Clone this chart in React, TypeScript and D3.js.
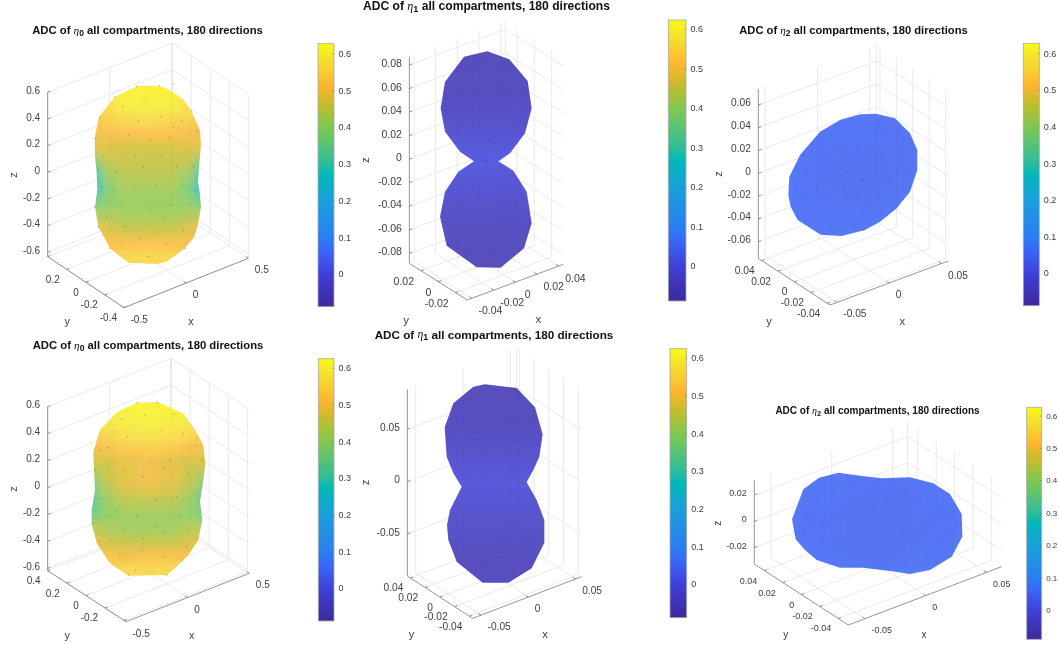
import React from "react";
import * as d3 from "d3";

// ---------- colour map ----------
const cmapStops = [0, 0.123, 0.21, 0.267, 0.405, 0.5, 0.544, 0.683, 0.775, 0.84, 0.93, 1];
const cmapColors = ["#3b2a9c", "#3f3fd8", "#3a66f8", "#2a80f0", "#1aa0dc", "#00b8b8", "#2cbd9c", "#80c84f", "#c8bc2a", "#fdb52f", "#f5dc30", "#f8fa14"];
const cbarMin = -0.088;
const cbarMax = 0.628;
const cbarTicks = [0, 0.1, 0.2, 0.3, 0.4, 0.5, 0.6];

// ---------- silhouettes and sample points (3x read-off units, per panel crop) ----------
const outlineA = [[410,258],[475,257],[505,268],[550,298],[575,335],[600,390],[603,435],[598,490],[594,545],[600,585],[603,620],[595,670],[583,710],[555,745],[500,785],[470,792],[385,788],[330,745],[295,680],[285,620],[292,570],[290,520],[285,470],[284,415],[297,350],[345,290]];
const outlineB = [[412,154],[478,178],[533,243],[545,325],[525,400],[480,460],[445,484],[490,512],[530,575],[545,670],[522,745],[452,803],[380,802],[290,737],[270,650],[285,575],[325,515],[372,484],[330,455],[285,395],[272,325],[285,245],[342,170]];
const outlineC = [[480,343],[527,341],[585,355],[630,400],[652,450],[652,510],[630,575],[590,625],[540,665],[495,690],[425,708],[362,704],[293,660],[272,620],[265,585],[268,530],[300,465],[360,395],[420,360]];
const outlineD = [[410,218],[472,216],[510,232],[552,252],[585,300],[610,345],[616,400],[610,450],[600,515],[607,570],[595,630],[565,675],[525,715],[500,735],[385,737],[330,700],[290,640],[275,580],[275,540],[285,480],[282,420],[280,365],[300,300],[350,247]];
const outlineE = [[370,200],[405,193],[500,204],[555,262],[578,343],[568,410],[550,450],[530,487],[560,540],[583,600],[583,668],[545,745],[475,788],[398,788],[320,725],[295,660],[291,615],[300,570],[335,500],[310,460],[290,410],[284,322],[310,250]];
const outlineF = [[415,248],[480,257],[545,265],[630,262],[700,280],[750,312],[785,372],[787,440],[755,500],[690,540],[630,552],[570,543],[490,533],[420,533],[350,510],[315,480],[287,448],[276,388],[310,298],[357,263]];

const dotsA = [[368,318],[432,306],[410,260],[478,257],[520,252],[300,352],[345,290],[415,362],[483,350],[545,363],[520,382],[575,332],[450,420],[510,412],[590,392],[285,415],[330,408],[385,405],[310,470],[405,465],[485,470],[560,455],[295,505],[350,515],[430,500],[530,500],[580,500],[305,560],[340,570],[400,555],[470,555],[545,555],[585,570],[365,608],[450,630],[510,615],[570,610],[285,620],[320,650],[375,680],[435,672],[490,655],[550,690],[295,680],[420,715],[500,732],[360,730],[330,745],[445,770],[555,745]];
const dotsB = [[360,205],[380,185],[332,252],[410,262],[410,272],[510,275],[515,280],[285,330],[347,313],[363,330],[470,342],[453,222],[345,380],[320,395],[525,370],[350,430],[370,448],[435,430],[420,420],[395,470],[405,482],[400,484],[412,482],[418,480],[395,512],[430,520],[445,505],[490,520],[368,515],[325,545],[350,540],[385,580],[470,590],[405,598],[520,600],[290,655],[348,648],[375,628],[465,672],[390,708],[320,730],[525,690],[437,762],[420,745]];
const dotsC = [[505,378],[450,380],[365,422],[420,440],[310,465],[470,450],[545,458],[605,455],[595,405],[560,405],[535,362],[390,515],[320,515],[430,505],[440,515],[480,535],[490,540],[500,520],[525,535],[565,540],[610,560],[590,505],[350,558],[315,598],[395,590],[440,590],[470,585],[500,600],[365,630],[415,635],[450,630],[490,632],[340,665],[395,678],[430,678],[465,675],[490,690],[535,590],[280,580],[555,495]];
const dotsD = [[365,267],[435,255],[410,218],[472,218],[520,252],[300,360],[382,320],[345,305],[485,300],[550,310],[325,352],[590,345],[450,395],[510,390],[605,390],[285,420],[375,420],[430,440],[490,415],[565,430],[305,505],[355,480],[470,510],[530,500],[585,490],[320,560],[350,545],[410,560],[465,590],[540,560],[600,545],[280,580],[370,600],[430,625],[495,605],[565,600],[330,630],[360,680],[425,660],[490,680],[560,650],[545,690],[300,635],[385,735],[405,720],[500,735]];
const dotsE = [[392,245],[430,240],[505,233],[375,280],[438,300],[520,280],[318,342],[377,338],[408,325],[490,368],[535,345],[345,405],[395,392],[415,400],[505,398],[525,400],[385,450],[430,435],[455,435],[485,435],[500,455],[355,480],[410,470],[470,485],[505,490],[525,490],[345,520],[385,515],[425,520],[480,510],[400,535],[510,545],[350,590],[410,565],[380,590],[545,600],[350,615],[430,620],[480,640],[392,660],[530,658],[360,703],[447,697],[497,720],[460,783],[410,725]];
const dotsF = [[320,368],[340,375],[450,285],[530,290],[620,295],[630,325],[560,335],[720,365],[700,380],[580,350],[500,380],[430,365],[370,400],[450,425],[540,420],[610,420],[670,400],[740,430],[310,430],[370,450],[420,480],[480,470],[540,460],[600,470],[660,450],[720,470],[500,510],[560,510],[620,510],[680,500],[440,510],[520,350],[580,385],[475,350],[400,300],[350,330]];

// ---------- ADC values over the visible surface: rows run top to bottom, columns left to right ----------
const adcA = [
  [.60,.60,.61,.61,.61,.60,.60],[.57,.58,.60,.60,.60,.58,.57],[.53,.55,.56,.57,.56,.55,.54],
  [.50,.51,.52,.52,.52,.51,.50],[.49,.48,.47,.47,.47,.48,.49],[.39,.46,.46,.46,.46,.46,.39],
  [.31,.42,.445,.445,.445,.42,.31],[.28,.39,.425,.425,.425,.39,.28],[.36,.40,.41,.41,.41,.40,.36],
  [.44,.43,.425,.425,.425,.43,.44],[.50,.48,.46,.46,.46,.48,.50],[.505,.51,.52,.52,.52,.51,.505],
  [.53,.55,.56,.56,.56,.55,.53]];
const adcD = [
  [.59,.60,.61,.61,.61,.60,.59],[.55,.59,.60,.61,.60,.59,.55],[.52,.56,.58,.58,.58,.56,.53],
  [.50,.51,.53,.54,.53,.51,.50],[.47,.47,.49,.50,.49,.47,.47],[.41,.46,.49,.50,.49,.46,.42],
  [.36,.44,.48,.49,.48,.44,.36],[.33,.41,.445,.445,.445,.41,.33],[.37,.40,.415,.415,.415,.40,.37],
  [.45,.43,.42,.42,.42,.44,.45],[.49,.47,.46,.46,.46,.47,.49],[.505,.51,.50,.51,.51,.51,.505],
  [.53,.55,.56,.56,.56,.55,.53]];
const adcB = [[-.055],[-.05],[-.04],[-.02],[.01],[-.015],[-.035],[-.045],[-.055]];
const adcE = [[-.055],[-.05],[-.04],[-.02],[.0],[-.02],[-.035],[-.045],[-.055]];
const adcC = [[.055,.056,.055],[.055,.048,.052],[.056,.056,.056]];
const adcF = [[.056,.055,.056],[.055,.044,.055],[.056,.052,.056]];
const columnEdgesWide = [0,.07,.22,.4,.6,.78,.93,1];
const columnEdgesSingle = [0,1];
const columnEdgesThree = [0,.33,.67,1];

// ---------- axis ticks ----------
const zTicksA = [-0.6,-0.4,-0.2,0,0.2,0.4,0.6];
const xTicksA = [-0.5,0,0.5];
const yTicksA = [-0.4,-0.2,0,0.2,0.4];
const yLabelsA = [-0.4,-0.2,0,0.2];
const yLabelsD = [-0.2,0,0.2,0.4];
const zTicksB = [-0.08,-0.06,-0.04,-0.02,0,0.02,0.04,0.06,0.08];
const xTicksB = [-0.04,-0.02,0,0.02,0.04];
const yTicksB = [-0.02,0,0.02];
const zTicksC = [-0.06,-0.04,-0.02,0,0.02,0.04,0.06];
const xTicksC = [-0.05,0,0.05];
const yTicksC = [-0.04,-0.02,0,0.02,0.04];
const zTicksE = [-0.05,0,0.05];
const zTicksF = [-0.02,0,0.02];

// ---------- panel table built from the lists above ----------
const panels = [
  { id:"a", sub:"0", ox:0, oy:0, titleX:147.5, titleY:30, titleFs:11.3, tickFs:10, cbFs:9, alpha:0.83, zeroNudge:0,
    L:[143,770], F:[372,923], R:[745,775], topY:277,
    xDom:[-0.5,0.5], yDom:[-0.4,0.4], zDom:[-0.6325,0.6],
    xT:xTicksA, yT:yTicksA, yL:yLabelsA, zT:zTicksA, xLab:[573,962], yLab:[202,962], zLab:[38,525],
    outline:outlineA, dots:dotsA, adc:adcA, edges:columnEdgesWide, gridBox:[284,257,603,792], blur:4.5,
    cb:[318,334,43.7,306.7], cb0:274.3, cb6:54 },
  { id:"b", sub:"1", ox:350, oy:0, titleX:486.5, titleY:6, titleFs:12.1, tickFs:10.5, cbFs:9, alpha:0.86, zeroNudge:3,
    L:[178,790], F:[352,900], R:[640,793], topY:170,
    xDom:[-0.0443,0.0443], yDom:[-0.0335,0.0335], zDom:[-0.0885,0.0871],
    xT:xTicksB, yT:yTicksB, yL:yTicksB, zT:zTicksB, xLab:[565,958], yLab:[168,960], zLab:[45,480],
    outline:outlineB, dots:dotsB, adc:adcB, edges:columnEdgesSingle, gridBox:[270,154,545,803], blur:9,
    cb:[668.3,686,20,301], cb0:266, cb6:29.3 },
  { id:"c", sub:"2", ox:700, oy:0, titleX:853.5, titleY:30, titleFs:11.2, tickFs:10.2, cbFs:9, alpha:0.86, zeroNudge:0,
    L:[175,775], F:[390,915], R:[745,783], topY:267,
    xDom:[-0.0565,0.0565], yDom:[-0.0433,0.044], zDom:[-0.0746,0.074],
    xT:xTicksC, yT:yTicksC, yL:yTicksC, zT:zTicksC, xLab:[607,962], yLab:[207,962], zLab:[53,522],
    outline:outlineC, dots:dotsC, adc:adcC, edges:columnEdgesThree, gridBox:[265,341,652,708], blur:16,
    cb:[1023.3,1039.3,43.3,305.7], cb0:273.3, cb6:53.7 },
  { id:"d", sub:"0", ox:0, oy:330, titleX:148, titleY:345, titleFs:11.3, tickFs:10, cbFs:9, alpha:0.83, zeroNudge:0,
    L:[143,722], F:[378,875], R:[748,730], topY:230,
    xDom:[-0.5,0.5], yDom:[-0.42,0.4], zDom:[-0.617,0.6],
    xT:xTicksA, yT:yTicksA, yL:yLabelsD, zT:zTicksA, xLab:[575,915], yLab:[202,915], zLab:[38,477],
    outline:outlineD, dots:dotsD, adc:adcD, edges:columnEdgesWide, gridBox:[275,216,616,737], blur:4.5,
    cb:[318.3,334,358.7,621], cb0:588.3, cb6:368.3 },
  { id:"e", sub:"1", ox:350, oy:320, titleX:494, titleY:334, titleFs:11.7, tickFs:10.2, cbFs:9, alpha:0.86, zeroNudge:0,
    L:[172,768], F:[368,895], R:[695,770], topY:208,
    xDom:[-0.0588,0.0563], yDom:[-0.0445,0.0441], zDom:[-0.0901,0.0882],
    xT:xTicksC, yT:yTicksC, yL:yTicksC, zT:zTicksE, xLab:[585,943], yLab:[185,943], zLab:[45,487],
    outline:outlineE, dots:dotsE, adc:adcE, edges:columnEdgesSingle, gridBox:[284,193,583,788], blur:9,
    cb:[670,686.7,348.7,617.7], cb0:584.3, cb6:358.3 },
  { id:"f", sub:"2", ox:700, oy:390, titleX:877.5, titleY:410, titleFs:10, tickFs:9, cbFs:8, alpha:0.86, zeroNudge:0,
    L:[163,522], F:[445,705], R:[905,530], topY:270,
    xDom:[-0.0637,0.0624], yDom:[-0.0509,0.0509], zDom:[-0.0324,0.0314],
    xT:xTicksC, yT:yTicksC, yL:yTicksC, zT:zTicksF, xLab:[672,732], yLab:[257,732], zLab:[52,400],
    outline:outlineF, dots:dotsF, adc:adcF, edges:columnEdgesThree, gridBox:[276,248,787,552], blur:16,
    cb:[1026.7,1041.7,407.3,639.3], cb0:610.7, cb6:416 },
];

const FONT = "'Liberation Sans', Arial, sans-serif";
const TEXT = "#404040";
const WIDTH = 1059;
const HEIGHT = 645;

const cmap = d3.scaleLinear<string>().domain(cmapStops).range(cmapColors).interpolate(d3.interpolateRgb);
const cmapValue = d3.scaleLinear().domain([cbarMin, cbarMax]).range([0, 1]).clamp(true);
const colorOf = (v: number) => cmap(cmapValue(v));

function Panel({ p }: { p: (typeof panels)[number] }) {
  const vx = d3.scaleLinear().domain([0, 1050]).range([p.ox, p.ox + 350]);
  const vy = d3.scaleLinear().domain([0, 1050]).range([p.oy, p.oy + 350]);
  const Lp = [vx(p.L[0]), vy(p.L[1])];
  const Fp = [vx(p.F[0]), vy(p.F[1])];
  const Rp = [vx(p.R[0]), vy(p.R[1])];
  const h = vy(p.L[1]) - vy(p.topY);
  const xS = d3.scaleLinear().domain(p.xDom).range([0, 1]);
  const yS = d3.scaleLinear().domain(p.yDom).range([0, 1]);
  const zS = d3.scaleLinear().domain(p.zDom).range([0, h]);
  const P = (x: number, y: number, z: number): [number, number] => {
    const tx = xS(x), ty = yS(y);
    return [
      Fp[0] + tx * (Rp[0] - Fp[0]) + ty * (Lp[0] - Fp[0]),
      Fp[1] + tx * (Rp[1] - Fp[1]) + ty * (Lp[1] - Fp[1]) - zS(z),
    ];
  };
  const [x0, x1] = p.xDom, [y0, y1] = p.yDom, [z0, z1] = p.zDom;
  const line = d3.line();
  const grid: [number, number][][] = [];
  p.xT.forEach((x) => {
    grid.push([P(x, y0, z0), P(x, y1, z0), P(x, y1, z1)]);
  });
  p.yT.forEach((y) => {
    grid.push([P(x0, y, z0), P(x1, y, z0), P(x1, y, z1)]);
  });
  p.zT.forEach((z) => {
    grid.push([P(x0, y1, z), P(x1, y1, z), P(x1, y0, z)]);
  });
  // back corner edge
  grid.push([P(x1, y1, z0), P(x1, y1, z1)]);

  const pts = p.outline.map(([a, b]) => [vx(a), vy(b)] as [number, number]);
  const rows = p.adc.length, cols = p.adc[0].length;
  const gb = p.gridBox;
  const gxFrac = d3.scaleLinear().domain([0, 1]).range([vx(gb[0]), vx(gb[2])]);
  const gx = (c: number) => gxFrac(p.edges[c]);
  const gy = d3.scaleLinear().domain([0, rows]).range([vy(gb[1]), vy(gb[3])]);
  const pad = 30;

  const tickLen = 3;
  const ux = [Rp[0] - Fp[0], Rp[1] - Fp[1]], uy = [Lp[0] - Fp[0], Lp[1] - Fp[1]];
  const nx = Math.hypot(ux[0], ux[1]), ny = Math.hypot(uy[0], uy[1]);

  const cbY = d3.scaleLinear().domain([0, 0.6]).range([p.cb0, p.cb6]);
  const cbTop = p.cb[2], cbBot = p.cb[3], cbL = p.cb[0], cbR = p.cb[1];

  return (
    <g fontFamily={FONT}>
      <defs>
        <clipPath id={`clip-${p.id}`}><path d={(line(pts) ?? "") + "Z"} /></clipPath>
        <filter id={`soft-${p.id}`} x="-30%" y="-30%" width="160%" height="160%">
          <feGaussianBlur stdDeviation={p.blur} />
        </filter>
      </defs>

      {/* walls and floor grid */}
      <g fill="none" stroke="#e4e4e4" strokeWidth={0.8}>
        {grid.map((g, i) => <path key={i} d={line(g) ?? ""} />)}
      </g>

      {/* surface */}
      <g clipPath={`url(#clip-${p.id})`}>
        <g opacity={p.alpha}>
          <g filter={`url(#soft-${p.id})`}>
            {p.adc.map((row, r) => row.map((v, c) => {
              const xa = c === 0 ? gx(0) - pad : gx(c);
              const xb = c === cols - 1 ? gx(cols) + pad : gx(c + 1);
              const ya = r === 0 ? gy(0) - pad : gy(r);
              const yb = r === rows - 1 ? gy(rows) + pad : gy(r + 1);
              return <rect key={`${r}-${c}`} x={xa} y={ya} width={xb - xa + 0.5} height={yb - ya + 0.5} fill={colorOf(v)} />;
            }))}
          </g>
        </g>
      </g>
      <g fill="#26262a" fillOpacity={0.6}>
        {p.dots.map(([a, b], i) => <circle key={i} cx={vx(a)} cy={vy(b)} r={0.5} />)}
      </g>

      {/* axis lines */}
      <g fill="none" stroke="#7a7a7a" strokeWidth={0.8}>
        <path d={line([P(x0, y1, z0), P(x0, y1, z1)]) ?? ""} />
        <path d={line([P(x0, y1, z0), P(x0, y0, z0)]) ?? ""} />
        <path d={line([P(x0, y0, z0), P(x1, y0, z0)]) ?? ""} />
        {p.zT.map((z) => { const a = P(x0, y1, z); return <path key={z} d={line([a, [a[0] + tickLen * ux[0] / nx, a[1] + tickLen * ux[1] / nx]]) ?? ""} />; })}
        {p.xT.map((x) => { const a = P(x, y0, z0); return <path key={x} d={line([a, [a[0] + tickLen * uy[0] / ny, a[1] + tickLen * uy[1] / ny]]) ?? ""} />; })}
        {p.yT.map((y) => { const a = P(x0, y, z0); return <path key={y} d={line([a, [a[0] + tickLen * ux[0] / nx, a[1] + tickLen * ux[1] / nx]]) ?? ""} />; })}
      </g>

      {/* tick labels */}
      <g fontSize={p.tickFs} fill={TEXT}>
        {p.zT.map((z) => { const a = P(x0, y1, z); return <text key={z} x={a[0] - 7.5} y={a[1] - 2} textAnchor="end" dominantBaseline="central">{String(z)}</text>; })}
        {p.xT.map((x) => { const a = P(x, y0, z0); return <text key={x} x={a[0] + 6.5 + (x === 0 ? p.zeroNudge : 0)} y={a[1] + 11.5} textAnchor="start" dominantBaseline="central">{String(x)}</text>; })}
        {p.yL.map((y) => { const a = P(x0, y, z0); return <text key={y} x={a[0] - 7} y={a[1] + 10} textAnchor="end" dominantBaseline="central">{String(y)}</text>; })}
      </g>

      {/* axis names */}
      <g fontSize={p.tickFs + 1} fill={TEXT} textAnchor="middle" dominantBaseline="central">
        <text x={vx(p.xLab[0])} y={vy(p.xLab[1])}>x</text>
        <text x={vx(p.yLab[0])} y={vy(p.yLab[1])}>y</text>
        <text transform={`translate(${vx(p.zLab[0])},${vy(p.zLab[1])}) rotate(-90)`}>z</text>
      </g>

      {/* title */}
      <text x={p.titleX} y={p.titleY} textAnchor="middle" dominantBaseline="central" fontSize={p.titleFs} fontWeight="bold" fill="#111">
        ADC of <tspan fontFamily="'Liberation Serif', serif" fontStyle="italic" fontWeight="normal">η</tspan>
        <tspan fontSize={p.titleFs * 0.75} dy={3}>{p.sub}</tspan>
        <tspan dy={-3}> all compartments, 180 directions</tspan>
      </text>

      {/* colour bar */}
      <rect x={cbL} y={cbTop} width={cbR - cbL} height={cbBot - cbTop} fill="url(#parula)" stroke="#a8a8a8" strokeWidth={0.8} />
      <g stroke="#6a6a6a" strokeWidth={0.6}>
        {cbarTicks.map((t) => <line key={t} x1={cbR - 1.5} x2={cbR} y1={cbY(t)} y2={cbY(t)} />)}
      </g>
      <g fontSize={p.cbFs} fill={TEXT}>
        {cbarTicks.map((t) => <text key={t} x={cbR + 4.5} y={cbY(t)} dominantBaseline="central">{String(t)}</text>)}
      </g>
    </g>
  );
}

export default function App() {
  return (
    <svg width={WIDTH} height={HEIGHT} viewBox={`0 0 ${WIDTH} ${HEIGHT}`}
      style={{ position: "absolute", left: 0, top: 0, background: "#fff", filter: "blur(0.35px)" }}>
      <defs>
        <linearGradient id="parula" x1="0" x2="0" y1="1" y2="0">
          {cmapStops.map((s, i) => <stop key={s} offset={s} stopColor={cmapColors[i]} />)}
        </linearGradient>
      </defs>
      {panels.map((p) => <Panel key={p.id} p={p} />)}
    </svg>
  );
}
